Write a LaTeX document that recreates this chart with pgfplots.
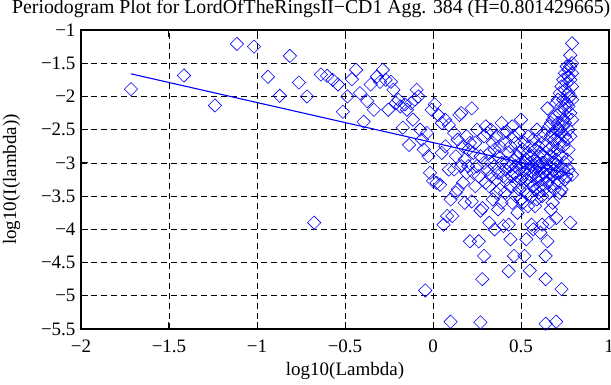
\documentclass[border=0pt]{standalone}
\usepackage{pgfplots}
\pgfplotsset{compat=1.18}
\usepackage{fontspec}
\setmainfont{Liberation Serif}
\begin{document}
\begin{tikzpicture}[font=\fontsize{19}{22}\selectfont]
\begin{axis}[
  scale only axis, width=528pt, height=299pt,
  xmin=-2, xmax=1, ymin=-5.5, ymax=-1,
  xtick={-2,-1.5,-1,-0.5,0,0.5,1},
  xticklabels={−2,−1.5,−1,−0.5,0,0.5,1},
  ytick={-5.5,-5,-4.5,-4,-3.5,-3,-2.5,-2,-1.5,-1},
  yticklabels={−5.5,−5,−4.5,−4,−3.5,−3,−2.5,−2,−1.5,−1},
  tick align=inside, xtick pos=both, ytick pos=both,
  major tick length=7pt,
  every tick/.style={black, line width=1pt},
  axis line style={black, line width=1.4pt},
  grid=major,
  major grid style={black, line width=0.6pt, dash pattern=on 6pt off 4pt},
  xticklabel style={yshift=-7pt},
  yticklabel style={xshift=-2pt},
  xlabel={log10(Lambda)},
  ylabel={log10(I(lambda))},
  xlabel style={at={(axis description cs:0.5,-0.157)}, anchor=base},
  ylabel style={at={(axis description cs:-0.1231,0.5)}, anchor=base},
  title={Periodogram Plot for LordOfTheRingsII−CD1 Agg. 384 (H=0.801429665)},
  title style={at={(axis description cs:-0.1307,1.036)}, anchor=base west, inner sep=0pt, font=\fontsize{19.8}{22}\selectfont},
]
\addplot[only marks, color=blue, mark=square, mark size=4.7pt, mark options={rotate=45, line width=0.6pt, fill=none}] table[row sep=\\] {
x y\\
-1.716 -1.89\\ -1.415 -1.685\\ -1.239 -2.135\\ -1.114 -1.21\\ -1.017 -1.25\\
-0.938 -1.705\\ -0.871 -1.99\\ -0.813 -1.39\\ -0.762 -1.79\\ -0.716 -2.00\\
-0.675 -3.90\\ -0.637 -1.67\\ -0.602 -1.69\\ -0.570 -1.75\\ -0.540 -1.82\\
-0.512 -2.23\\ -0.486 -2.00\\ -0.461 -1.74\\ -0.437 -1.60\\ -0.415 -1.95\\
-0.394 -2.38\\ -0.374 -2.07\\ -0.354 -1.82\\ -0.336 -2.20\\ -0.318 -1.70\\
-0.301 -1.78\\ -0.285 -1.60\\ -0.269 -1.75\\ -0.254 -2.20\\ -0.239 -1.78\\
-0.225 -1.90\\ -0.211 -2.10\\ -0.197 -2.05\\ -0.185 -2.15\\ -0.172 -2.47\\
-0.160 -2.12\\ -0.148 -2.20\\ -0.136 -2.73\\ -0.125 -2.10\\ -0.114 -2.35\\
-0.103 -2.05\\ -0.093 -1.90\\ -0.083 -2.00\\ -0.073 -2.50\\ -0.063 -2.65\\
-0.053 -2.80\\ -0.044 -4.92\\ -0.035 -2.55\\ -0.026 -2.90\\ -0.017 -3.15\\
-0.008 -2.20\\ 0.000 -3.27\\
0.01 -2.12\\ 0.02 -3.30\\ 0.03 -2.28\\ 0.04 -3.33\\ 0.05 -2.85\\ 0.05 -2.40\\
0.06 -3.93\\ 0.07 -2.35\\ 0.07 -2.75\\ 0.08 -3.80\\ 0.09 -2.43\\ 0.09 -3.10\\
0.10 -5.39\\ 0.10 -3.55\\
0.11 -3.80\\ 0.12 -2.55\\ 0.12 -3.10\\ 0.13 -3.45\\ 0.13 -2.90\\ 0.14 -3.40\\
0.14 -2.65\\ 0.15 -2.28\\ 0.16 -2.25\\ 0.16 -3.05\\ 0.17 -3.30\\ 0.17 -2.75\\
0.18 -2.95\\ 0.18 -3.60\\ 0.19 -3.15\\ 0.19 -2.60\\ 0.20 -2.80\\ 0.20 -3.05\\
0.21 -4.18\\ 0.21 -2.70\\ 0.22 -2.18\\ 0.22 -3.58\\ 0.23 -3.15\\ 0.23 -2.85\\
0.24 -2.70\\ 0.24 -3.35\\ 0.25 -3.05\\ 0.25 -2.50\\ 0.26 -4.18\\ 0.26 -3.20\\
0.27 -5.40\\ 0.27 -3.72\\ 0.27 -2.90\\ 0.28 -4.75\\ 0.28 -3.68\\ 0.29 -4.40\\
0.29 -3.00\\ 0.29 -2.60\\ 0.30 -2.45\\ 0.30 -3.30\\
0.31 -2.55\\ 0.31 -3.10\\ 0.32 -3.90\\ 0.32 -2.85\\ 0.32 -3.35\\ 0.33 -2.50\\
0.33 -3.20\\ 0.33 -3.00\\ 0.34 -2.70\\ 0.34 -3.55\\ 0.35 -4.00\\ 0.35 -3.05\\
0.35 -2.80\\ 0.36 -2.60\\ 0.36 -3.25\\ 0.36 -3.45\\ 0.37 -2.90\\ 0.37 -3.15\\
0.37 -3.70\\ 0.38 -3.40\\ 0.38 -2.75\\ 0.39 -3.60\\ 0.39 -3.00\\ 0.39 -2.40\\
0.40 -3.95\\ 0.40 -2.55\\ 0.40 -3.20\\
0.41 -3.10\\ 0.41 -2.70\\ 0.41 -3.45\\ 0.42 -2.53\\ 0.42 -3.25\\ 0.42 -3.00\\
0.43 -4.63\\ 0.43 -3.93\\ 0.43 -2.85\\ 0.44 -4.15\\ 0.44 -3.35\\ 0.44 -3.05\\
0.44 -2.75\\ 0.45 -3.20\\ 0.45 -2.45\\ 0.45 -3.60\\ 0.46 -4.40\\ 0.46 -2.95\\
0.46 -3.15\\ 0.46 -2.60\\ 0.47 -3.50\\ 0.47 -2.70\\ 0.47 -3.05\\ 0.47 -3.30\\
0.48 -2.90\\ 0.48 -3.75\\ 0.48 -3.20\\ 0.49 -2.55\\ 0.49 -3.10\\ 0.49 -3.40\\
0.49 -2.85\\ 0.50 -3.00\\ 0.50 -3.25\\ 0.50 -2.35\\ 0.50 -3.55\\
0.51 -3.05\\ 0.51 -2.80\\ 0.51 -3.35\\ 0.51 -3.60\\ 0.52 -4.40\\ 0.52 -3.15\\
0.52 -2.70\\ 0.52 -3.00\\ 0.53 -4.15\\ 0.53 -3.25\\ 0.53 -2.95\\ 0.53 -3.45\\
0.54 -2.60\\ 0.54 -3.10\\ 0.54 -3.65\\ 0.54 -2.85\\ 0.55 -4.62\\ 0.55 -3.30\\
0.55 -3.00\\ 0.55 -2.75\\ 0.56 -3.93\\ 0.56 -3.20\\ 0.56 -2.90\\ 0.56 -3.50\\
0.56 -3.05\\ 0.57 -4.00\\ 0.57 -3.15\\ 0.57 -2.65\\ 0.57 -3.35\\ 0.58 -3.65\\
0.58 -2.95\\ 0.58 -3.10\\ 0.58 -3.40\\ 0.58 -2.80\\ 0.59 -2.50\\ 0.59 -3.25\\
0.59 -3.00\\ 0.59 -3.55\\ 0.60 -3.20\\ 0.60 -2.75\\ 0.60 -3.45\\ 0.60 -3.05\\
0.60 -2.90\\
0.61 -4.05\\ 0.61 -3.10\\ 0.61 -2.85\\ 0.61 -3.35\\ 0.61 -2.60\\
0.62 -3.93\\ 0.62 -3.00\\ 0.62 -3.25\\ 0.62 -2.70\\ 0.62 -3.50\\
0.63 -3.15\\ 0.63 -2.90\\ 0.63 -2.55\\ 0.63 -3.40\\ 0.63 -3.05\\
0.64 -5.42\\ 0.64 -4.75\\ 0.64 -4.40\\ 0.64 -3.20\\ 0.64 -2.75\\
0.65 -4.18\\ 0.65 -2.18\\ 0.65 -3.10\\ 0.65 -2.95\\ 0.65 -3.30\\
0.66 -3.90\\ 0.66 -2.45\\ 0.66 -3.05\\ 0.66 -3.25\\ 0.66 -2.80\\ 0.66 -3.45\\
0.67 -3.70\\ 0.67 -2.60\\ 0.67 -3.15\\ 0.67 -2.90\\ 0.67 -3.35\\ 0.67 -2.40\\
0.68 -3.60\\ 0.68 -2.35\\ 0.68 -2.75\\ 0.68 -3.00\\ 0.68 -3.20\\ 0.68 -2.55\\
0.69 -3.40\\ 0.69 -2.30\\ 0.69 -2.85\\ 0.69 -3.10\\ 0.69 -2.65\\ 0.69 -3.00\\
0.70 -5.39\\ 0.70 -3.83\\ 0.70 -2.10\\ 0.70 -2.50\\ 0.70 -2.95\\ 0.70 -3.15\\
0.71 -2.05\\ 0.71 -2.40\\ 0.71 -2.80\\ 0.71 -3.05\\ 0.71 -3.30\\ 0.71 -2.60\\
0.72 -1.95\\ 0.72 -2.25\\ 0.72 -2.70\\ 0.72 -3.15\\ 0.72 -3.45\\ 0.72 -2.50\\
0.73 -4.90\\ 0.73 -1.85\\ 0.73 -2.15\\ 0.73 -2.55\\ 0.73 -2.90\\ 0.73 -3.20\\
0.73 -3.40\\
0.74 -1.75\\ 0.74 -2.05\\ 0.74 -2.35\\ 0.74 -2.75\\ 0.74 -3.10\\ 0.74 -2.45\\
0.75 -1.65\\ 0.75 -1.90\\ 0.75 -2.20\\ 0.75 -2.60\\ 0.75 -3.00\\ 0.75 -3.25\\
0.75 -2.40\\
0.76 -1.55\\ 0.76 -1.80\\ 0.76 -2.10\\ 0.76 -2.30\\ 0.76 -2.65\\ 0.76 -2.95\\
0.76 -3.20\\
0.77 -1.60\\ 0.77 -1.70\\ 0.77 -1.95\\ 0.77 -2.15\\ 0.77 -2.50\\ 0.77 -2.80\\
0.77 -3.10\\
0.78 -1.38\\ 0.78 -1.55\\ 0.78 -1.75\\ 0.78 -2.00\\ 0.78 -2.25\\ 0.78 -3.90\\
0.78 -2.60\\
0.79 -1.20\\ 0.79 -1.50\\ 0.79 -1.65\\ 0.79 -1.85\\ 0.79 -2.05\\ 0.79 -2.35\\
0.79 -3.18\\
};
\addplot[color=blue, line width=1.1pt] coordinates {(-1.716,-1.660) (0.796,-3.174)};
\end{axis}
\pgfresetboundingbox
\path[use as bounding box] (current axis.south west) ++(-81pt,-56pt) rectangle ++(611pt,385pt);
\end{tikzpicture}
\end{document}
